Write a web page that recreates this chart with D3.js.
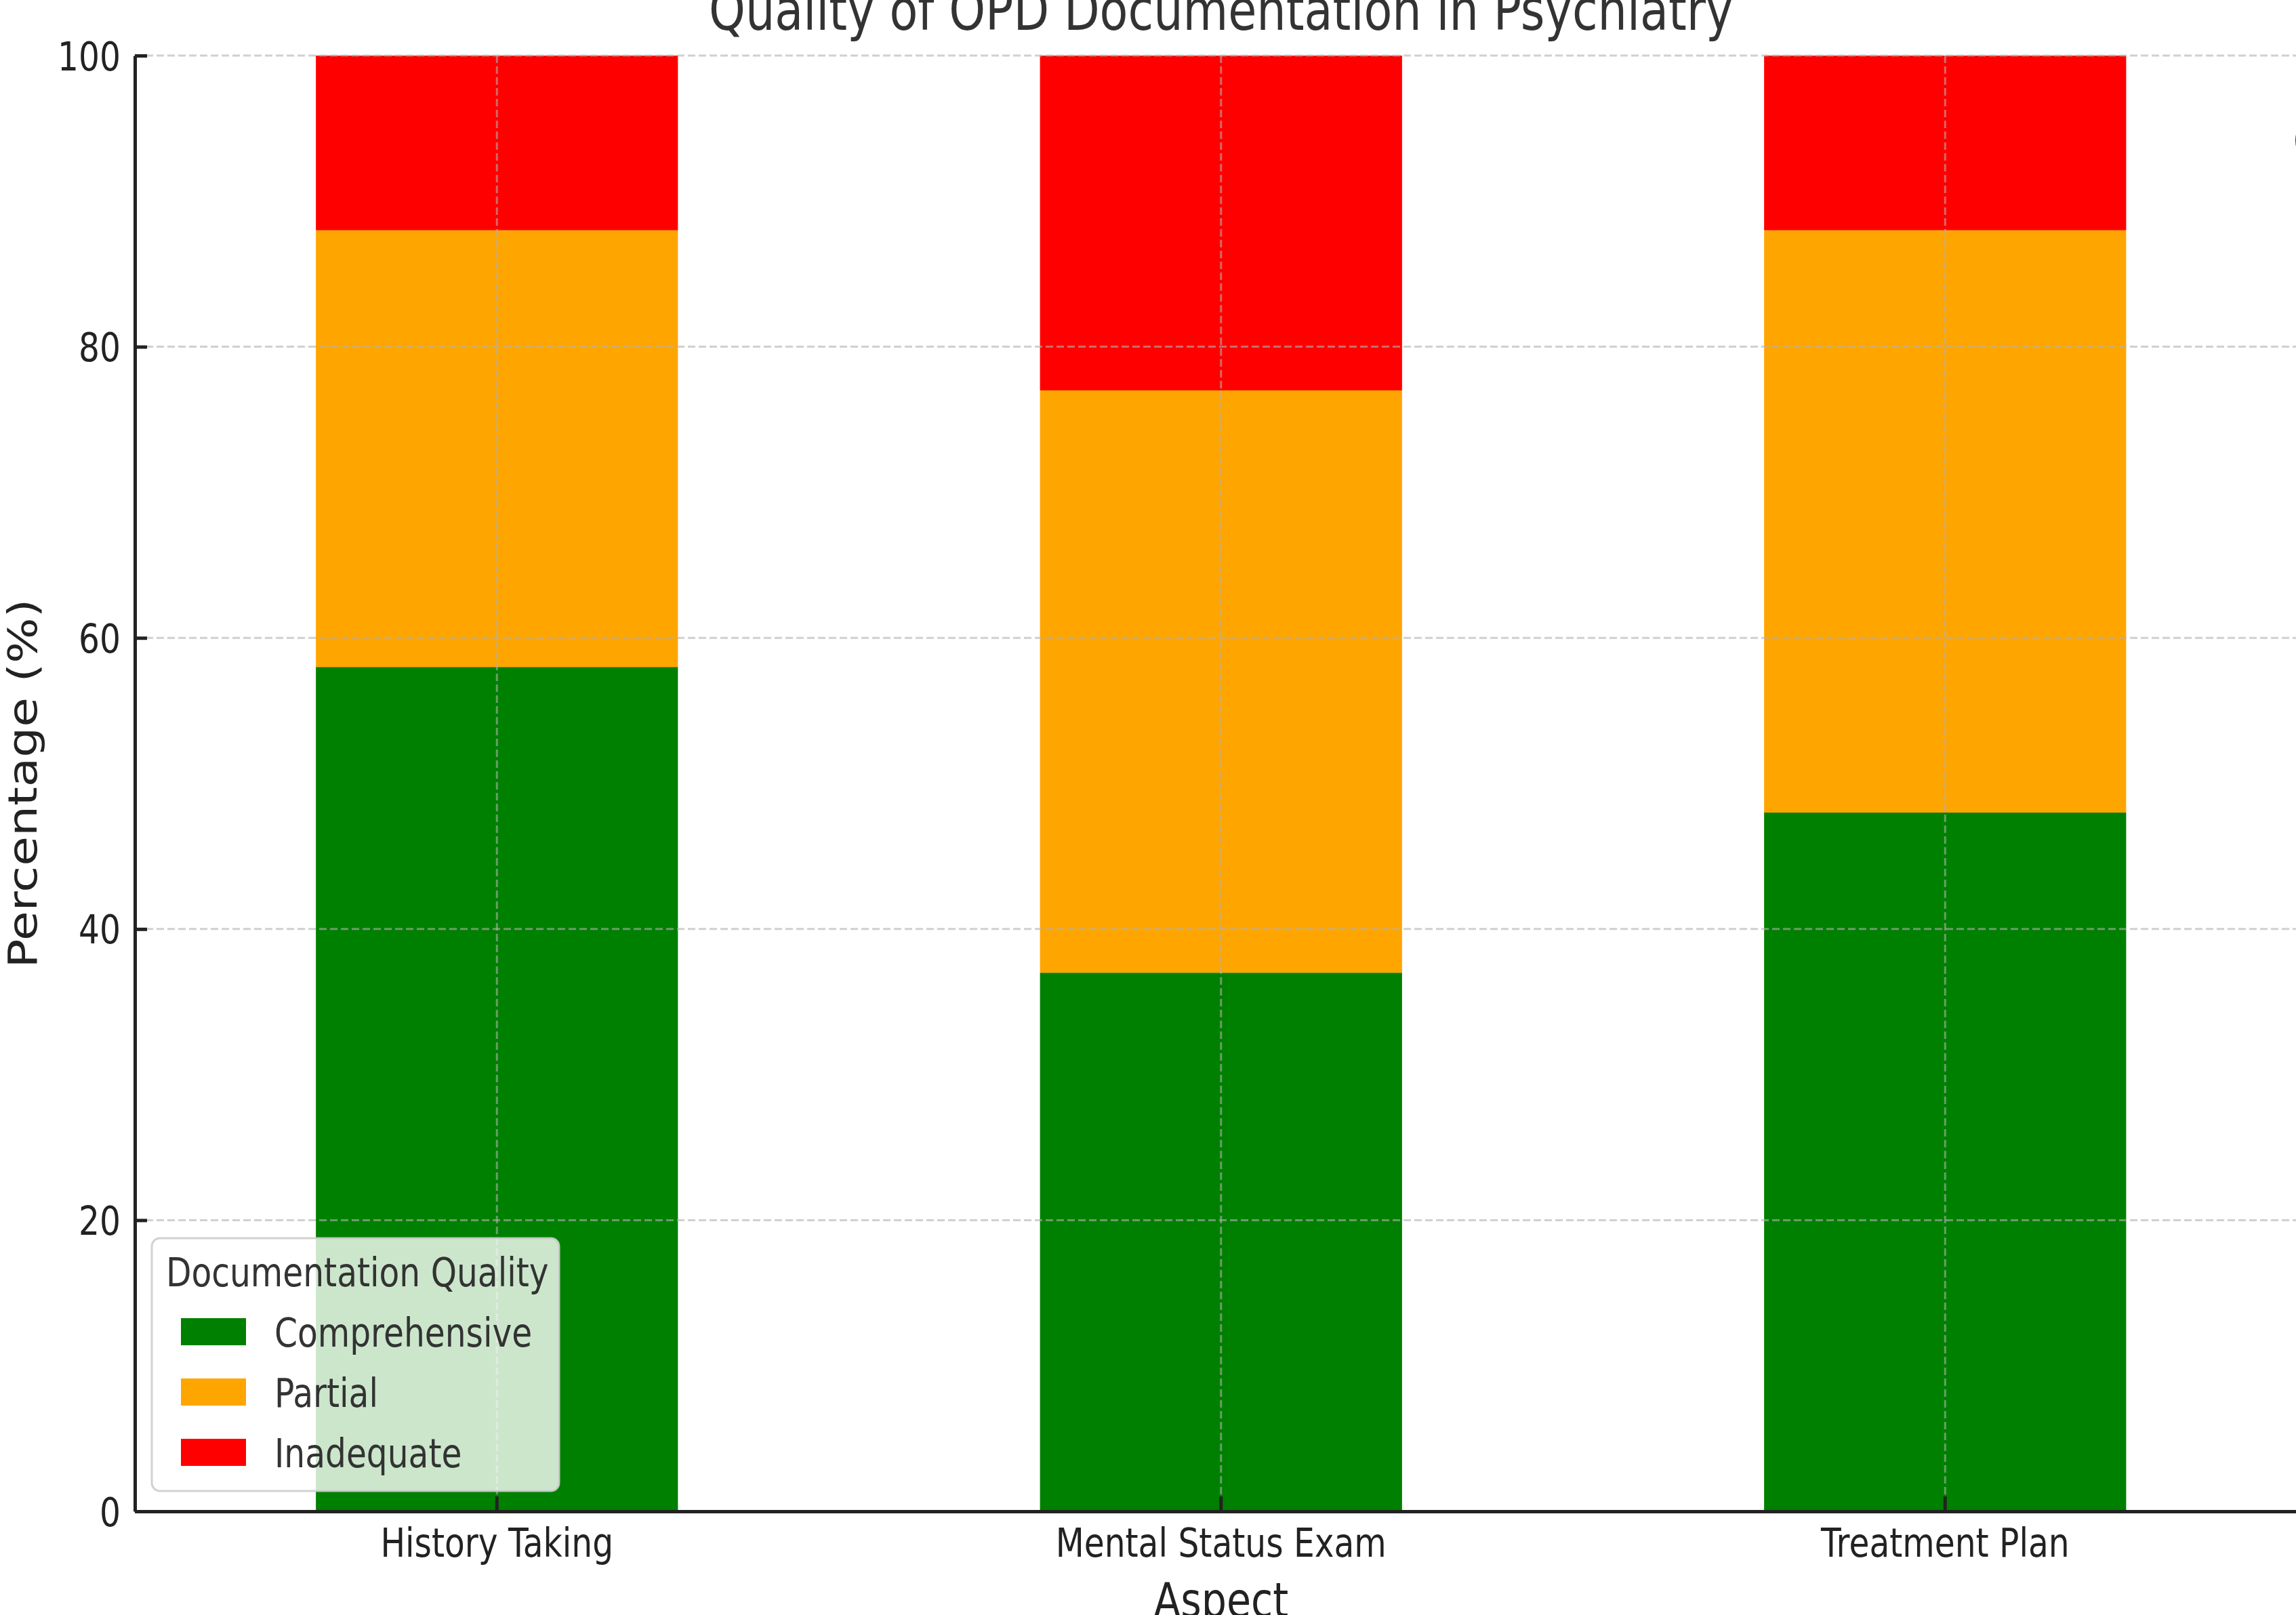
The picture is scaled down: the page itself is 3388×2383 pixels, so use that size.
<!DOCTYPE html>
<html>
<head>
<meta charset="utf-8">
<title>Quality of OPD Documentation in Psychiatry</title>
<script src="https://cdn.jsdelivr.net/npm/d3@7"></script>
<style>
  html, body { margin: 0; padding: 0; background: #fff; overflow: hidden; }
  svg { display: block; }
</style>
</head>
<body>
<script>
// ---- data ----
const aspects = ["History Taking", "Mental Status Exam", "Treatment Plan"];
const qualityLevels = ["Comprehensive", "Partial", "Inadequate"];
const comprehensive = [58, 37, 48];
const partial = [30, 40, 40];
const inadequate = [12, 23, 12];
const yTicks = [0, 20, 40, 60, 80, 100];
const levelColors = ["#008000", "#FFA500", "#FF0000"];

// ---- layout ----
const W = 3388, H = 2383;
const plotLeft = 199, plotTop = 82, plotBottom = 2230;
const step = 1068.5;
const sx = 0.825;            // horizontal squeeze applied to all text
const tickFont = 59, labelFont = 71, titleFont = 83;
const textDark = "#222", textMid = "#333";

const svg = d3.select("body").append("svg")
  .attr("width", W).attr("height", H)
  .style("font-family", "'DejaVu Sans', sans-serif");

svg.append("rect").attr("width", W).attr("height", H).attr("fill", "#fff");

const x = d3.scaleBand()
  .domain(aspects)
  .range([plotLeft, plotLeft + 3 * step])
  .paddingInner(0.5)
  .paddingOuter(0.25);

const y = d3.scaleLinear().domain([0, 100]).range([plotBottom, plotTop]);

const color = d3.scaleOrdinal().domain(qualityLevels).range(levelColors);

// ---- stacked bars ----
const rows = aspects.map((a, i) => ({
  aspect: a,
  Comprehensive: comprehensive[i],
  Partial: partial[i],
  Inadequate: inadequate[i]
}));
const series = d3.stack().keys(qualityLevels)(rows);

svg.append("g")
  .selectAll("g")
  .data(series)
  .join("g")
  .attr("fill", d => color(d.key))
  .selectAll("rect")
  .data(d => d)
  .join("rect")
  .attr("x", d => x(d.data.aspect))
  .attr("y", d => y(d[1]))
  .attr("width", x.bandwidth())
  .attr("height", d => y(d[0]) - y(d[1]));

// ---- dashed grid, drawn over the bars ----
const grid = svg.append("g")
  .attr("stroke", "#b0b0b0")
  .attr("stroke-opacity", 0.6)
  .attr("stroke-width", 3)
  .attr("stroke-dasharray", "11,5")
  .attr("fill", "none");

grid.selectAll("line.h")
  .data(yTicks.filter(v => v > 0))
  .join("line")
  .attr("class", "h")
  .attr("x1", plotLeft).attr("x2", plotLeft + 3 * step)
  .attr("y1", d => y(d)).attr("y2", d => y(d));

grid.selectAll("line.v")
  .data(aspects)
  .join("line")
  .attr("class", "v")
  .attr("x1", d => x(d) + x.bandwidth() / 2)
  .attr("x2", d => x(d) + x.bandwidth() / 2)
  .attr("y1", plotTop).attr("y2", plotBottom);

// ---- axes (inward ticks, left and bottom spines only) ----
const gx = svg.append("g")
  .attr("transform", `translate(0,${plotBottom})`)
  .call(d3.axisBottom(x).tickSize(-22).tickSizeOuter(0).tickFormat(""));

const gy = svg.append("g")
  .attr("transform", `translate(${plotLeft},0)`)
  .call(d3.axisLeft(y).tickValues(yTicks).tickSize(-18).tickSizeOuter(0).tickFormat(""));

[gx, gy].forEach(g => {
  g.select(".domain").attr("stroke", textDark).attr("stroke-width", 5);
  g.selectAll(".tick line").attr("stroke", textDark).attr("stroke-width", 5);
});

// tick labels
svg.append("g")
  .selectAll("text")
  .data(yTicks)
  .join("text")
  .attr("transform", d => `translate(178,${y(d) + 21.5}) scale(${sx},1)`)
  .attr("text-anchor", "end")
  .attr("font-size", tickFont)
  .attr("fill", textDark)
  .text(d => d);

svg.append("g")
  .selectAll("text")
  .data(aspects)
  .join("text")
  .attr("transform", d => `translate(${x(d) + x.bandwidth() / 2},2297) scale(${sx},1)`)
  .attr("text-anchor", "middle")
  .attr("font-size", tickFont)
  .attr("fill", textDark)
  .text(d => d);

// axis titles
svg.append("text")
  .attr("transform", `translate(${plotLeft + 1.5 * step},2386) scale(${sx},1)`)
  .attr("text-anchor", "middle")
  .attr("font-size", labelFont)
  .attr("fill", textDark)
  .text("Aspect");

svg.append("text")
  .attr("transform", `translate(54,${(plotTop + plotBottom) / 2}) rotate(-90) scale(1,${sx})`)
  .attr("text-anchor", "middle")
  .attr("font-size", labelFont)
  .attr("fill", textDark)
  .text("Percentage (%)");

// chart title
svg.append("text")
  .attr("transform", `translate(${plotLeft + 1.5 * step},44) scale(${sx},1)`)
  .attr("text-anchor", "middle")
  .attr("font-size", titleFont)
  .attr("fill", textMid)
  .text("Quality of OPD Documentation in Psychiatry");

// text running off the right edge
svg.append("text")
  .attr("transform", `translate(3383,226) scale(${sx},1)`)
  .attr("font-size", tickFont)
  .attr("fill", "#000")
  .text("(");

// ---- legend ----
const legend = svg.append("g");
legend.append("rect")
  .attr("x", 224).attr("y", 1827)
  .attr("width", 601).attr("height", 373)
  .attr("rx", 12).attr("ry", 12)
  .attr("fill", "#fff").attr("fill-opacity", 0.8)
  .attr("stroke", "#cccccc").attr("stroke-opacity", 0.9)
  .attr("stroke-width", 3);

legend.append("text")
  .attr("transform", `translate(245,1898) scale(${sx},1)`)
  .attr("font-size", tickFont)
  .attr("fill", textMid)
  .text("Documentation Quality");

const rowY = d3.scalePoint().domain(qualityLevels).range([1965, 2143]);

const items = legend.selectAll("g.item")
  .data(qualityLevels)
  .join("g")
  .attr("class", "item");

items.append("rect")
  .attr("x", 267)
  .attr("y", d => rowY(d) - 20)
  .attr("width", 96).attr("height", 40)
  .attr("fill", d => color(d));

items.append("text")
  .attr("transform", d => `translate(405,${rowY(d) + 21.5}) scale(${sx},1)`)
  .attr("font-size", tickFont)
  .attr("fill", textMid)
  .text(d => d);
</script>
</body>
</html>
